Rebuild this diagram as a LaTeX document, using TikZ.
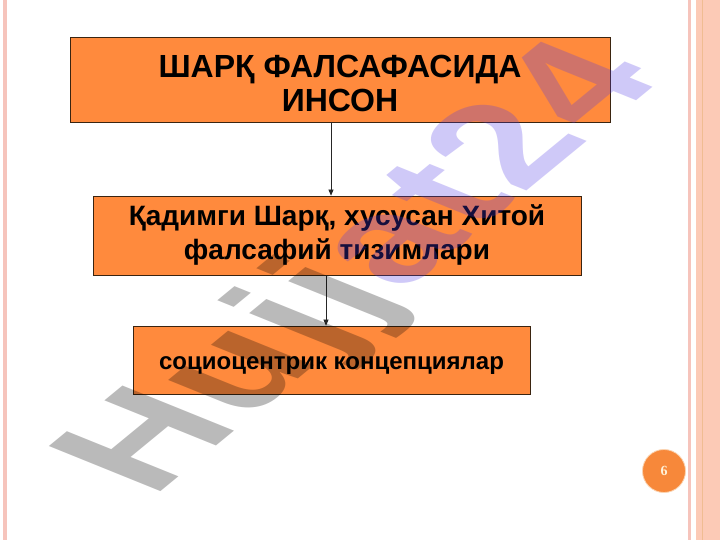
\documentclass[tikz,border=0pt]{standalone}
\usepackage{fontspec}
\setmainfont{Liberation Sans}
\newfontfamily\numfont{Liberation Serif}
\usetikzlibrary{arrows.meta}
\definecolor{boxorange}{HTML}{FF8A3D}
\definecolor{boxline}{HTML}{3A2410}
\definecolor{pinkline}{HTML}{F6C4BC}
\definecolor{pinkband}{HTML}{FCCAB6}
\definecolor{tanline}{HTML}{F0BC92}
\definecolor{numorange}{HTML}{F7883A}
\definecolor{numring}{HTML}{FBD3B0}
\definecolor{cream}{HTML}{FFF2D8}
\definecolor{wmgray}{HTML}{000000}
\definecolor{wmviolet}{HTML}{5038E6}
\begin{document}
\begin{tikzpicture}[x=1pt,y=-1pt,
  box/.style={draw=boxline, line width=0.8pt, fill=boxorange, inner sep=0pt, align=center},
  conn/.style={draw=black!85, line width=0.6pt, -{Triangle[length=6pt,width=5pt]}},
  bigtxt/.style={font=\fontsize{32}{34}\selectfont\bfseries},
  midtxt/.style={font=\fontsize{28}{34}\selectfont\bfseries},
  smalltxt/.style={font=\fontsize{24}{30}\selectfont\bfseries}]
\useasboundingbox (0,0) rectangle (720,540);
\fill[white] (0,0) rectangle (720,540);
% borders
\fill[pinkline] (3,0) rectangle (7,540);
\fill[pinkline] (688,0) rectangle (690.5,540);
\fill[pinkband] (695.5,0) rectangle (720,540);
\fill[tanline] (701.5,0) rectangle (703,540);
% boxes
\node[box, minimum width=540pt, minimum height=85pt] (t) at (340,79.5) {};
\node[bigtxt, align=center, inner sep=0pt] (tt) at ([yshift=-4pt]t.center) {ШАРҚ ФАЛСАФАСИДА\\ИНСОН};
\node[box, minimum width=488pt, minimum height=79pt] (b2) at (337,235.5) {};
\node[midtxt, align=center, inner sep=0pt] (b2t) at ([yshift=1pt]b2.center) {Қадимги Шарқ, хусусан Хитой\\фалсафий тизимлари};
\node[box, minimum width=397pt, minimum height=68pt] (b3) at (331.5,360) {};
\node[smalltxt, inner sep=0pt] (b3t) at ([yshift=-6pt]b3.center) {социоцентрик концепциялар};
% connectors
\draw[conn] ([xshift=-9pt]t.south) -- ([xshift=-9pt]t.south |- b2.north);
\draw[conn] ([xshift=-11pt]b2.south) -- ([xshift=-11pt]b2.south |- b3.north);
% page number
\node[circle, fill=numorange, draw=numring, line width=0.8pt, minimum size=43pt, inner sep=0pt,
      font=\numfont\bfseries\fontsize{14}{14}\selectfont, text=cream] (pg) at (664,471) {6};
% watermark
\begin{scope}[shift={(152,499)}, cm={1.252,1.029,-1.622,0.656,(0,0)}, transform shape]
\node[anchor=base west, inner sep=0pt, opacity=0.27, font=\fontsize{100}{100}\selectfont\bfseries] (wm) at (0,0)
  {\textcolor{wmgray}{H\kern3pt u\kern3pt j\kern3pt j}\kern3pt\textcolor{wmviolet}{a\kern3pt t\kern3pt 2\kern3pt 4}};
\end{scope}
\end{tikzpicture}
\end{document}
